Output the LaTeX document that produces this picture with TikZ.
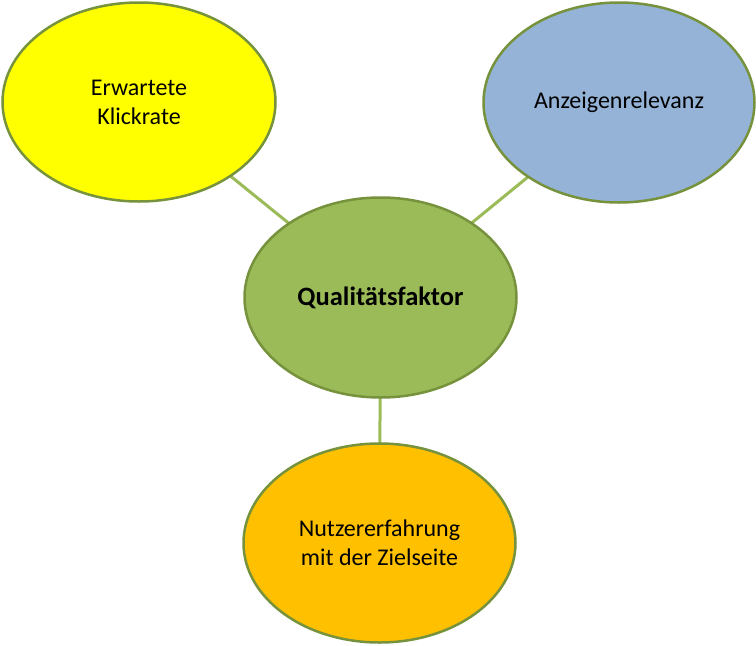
\documentclass[tikz,border=0pt]{standalone}
\usepackage{fontspec}
\setmainfont{Carlito}
\usetikzlibrary{shapes.geometric}
\definecolor{olive}{HTML}{76923C}
\definecolor{lgreen}{HTML}{9BBB59}
\definecolor{yel}{HTML}{FFFF00}
\definecolor{blu}{HTML}{95B3D7}
\definecolor{ora}{HTML}{FFC000}
\tikzset{
  bubble/.style={ellipse, draw=olive, line width=2.5pt, inner sep=0pt, align=center,
    font=\fontsize{24}{29}\selectfont},
  link/.style={draw=lgreen, line width=3pt}
}
\begin{document}
\begin{tikzpicture}[x=1pt,y=-1pt]
\useasboundingbox (0,0) rectangle (756,646);
\coordinate (cy) at (139,102);
\coordinate (cb) at (619,102.5);
\coordinate (cg) at (380.5,297.5);
\coordinate (co) at (379.5,543);
\draw[link] (cy) -- (cg);
\draw[link] (cb) -- (cg);
\draw[link] (cg) -- (co);
\node[bubble, fill=yel, minimum width=273pt, minimum height=199pt] (y) at (cy) {Erwartete\\Klickrate};
\node[bubble, fill=blu, minimum width=271pt, minimum height=200pt] (b) at (cb) {Anzeigenrelevanz};
\node[bubble, fill=lgreen, minimum width=272pt, minimum height=200pt, font=\fontsize{26.5}{30}\selectfont\bfseries] (g) at (cg) {Qualitätsfaktor};
\node[bubble, fill=ora, minimum width=272pt, minimum height=199pt] (o) at (co) {Nutzererfahrung\\mit der Zielseite};
\end{tikzpicture}
\end{document}
